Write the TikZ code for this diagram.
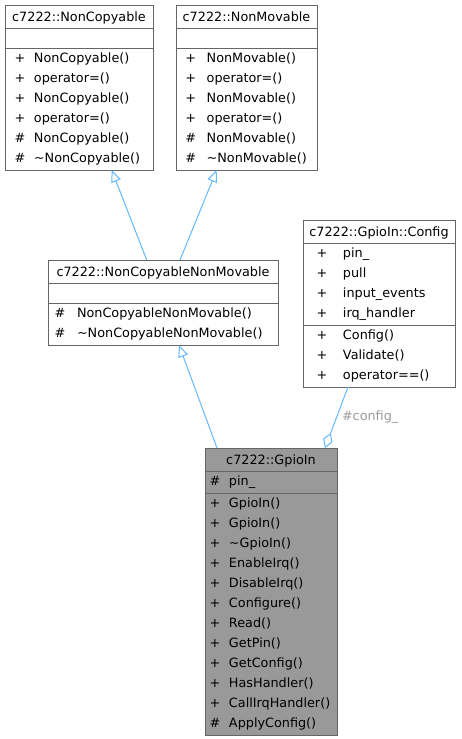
\documentclass[tikz,border=0pt]{standalone}
\usepackage{fontspec}
\setmainfont{DejaVu Sans}
\usepackage{tikz}
\usetikzlibrary{shapes.multipart,arrows.meta}
\definecolor{edgeblue}{HTML}{63B8FF}
\definecolor{boxline}{HTML}{666666}
\definecolor{curfill}{HTML}{999999}
\definecolor{lblgray}{HTML}{9A9A9A}
\newlength{\symw}
\newcommand{\rowstrut}{\rule[-7pt]{0pt}{20pt}}
\newcommand{\ttl}[1]{\makebox[\hsize][c]{\rule[-5.3pt]{0pt}{21pt}#1}}
\newcommand{\nomem}{\rule[-5pt]{0pt}{18pt}}
\newcommand{\mrow}[2]{\makebox[\symw][l]{#1}#2\rowstrut}

\begin{document}
\begin{tikzpicture}[x=1pt, y=-1pt, font=\fontsize{12.8pt}{20pt}\selectfont,
  cls/.style={rectangle split, rectangle split parts=3, draw=boxline, line width=1pt,
              fill=white, inner ysep=0.5pt, outer sep=0pt, anchor=north west, align=left},
  cur/.style={cls, fill=curfill},
  symcol/.style={execute at begin node={\global\symw=#1pt}},
  inherit/.style={draw=edgeblue, line width=1pt, -{Triangle[open,length=12pt,width=10pt]}},
  member/.style={draw=edgeblue, line width=1pt, -{Diamond[open,length=16pt,width=10pt]}},
  elbl/.style={text=lblgray, inner sep=0pt},
]
\useasboundingbox (0,0) rectangle (461,739);
\node[cls, inner xsep=9.6pt, text width=128.8pt, symcol=19.4] (noncopyable) at (5,5)
  {\ttl{c7222::NonCopyable}\nodepart{two}\nomem\nodepart{three}
   \mrow{+}{NonCopyable()}\\\mrow{+}{operator=()}\\\mrow{+}{NonCopyable()}\\
   \mrow{+}{operator=()}\\\mrow{\#}{NonCopyable()}\\\mrow{\#}{\textasciitilde NonCopyable()}};
\node[cls, inner xsep=9.3pt, text width=122.4pt, symcol=21.4] (nonmovable) at (176,5)
  {\ttl{c7222::NonMovable}\nodepart{two}\nomem\nodepart{three}
   \mrow{+}{NonMovable()}\\\mrow{+}{operator=()}\\\mrow{+}{NonMovable()}\\
   \mrow{+}{operator=()}\\\mrow{\#}{NonMovable()}\\\mrow{\#}{\textasciitilde NonMovable()}};
\node[cls, inner xsep=6.6pt, text width=216.8pt, symcol=22.4] (ncnm) at (48,260)
  {\ttl{c7222::NonCopyableNonMovable}\nodepart{two}\nomem\nodepart{three}
   \mrow{\#}{NonCopyableNonMovable()}\\\mrow{\#}{\textasciitilde NonCopyableNonMovable()}};
\node[cls, inner xsep=13.6pt, text width=124.8pt, symcol=26.4] (config) at (303,220)
  {\ttl{c7222::GpioIn::Config}\nodepart{two}
   \mrow{+}{pin\_}\\\mrow{+}{pull}\\\mrow{+}{input\_events}\\\mrow{+}{irq\_handler}
   \nodepart{three}
   \mrow{+}{Config()}\\\mrow{+}{Validate()}\\\mrow{+}{operator==()}};
\node[cur, inner xsep=4.6pt, text width=122.8pt, symcol=19.4] (gpioin) at (205,448)
  {\ttl{c7222::GpioIn}\nodepart{two}\mrow{\#}{pin\_}\nodepart{three}
   \mrow{+}{GpioIn()}\\\mrow{+}{GpioIn()}\\\mrow{+}{\textasciitilde GpioIn()}\\
   \mrow{+}{EnableIrq()}\\\mrow{+}{DisableIrq()}\\\mrow{+}{Configure()}\\
   \mrow{+}{Read()}\\\mrow{+}{GetPin()}\\\mrow{+}{GetConfig()}\\
   \mrow{+}{HasHandler()}\\\mrow{+}{CallIrqHandler()}\\\mrow{\#}{ApplyConfig()}};
\draw[inherit] ([xshift=-16.3pt]ncnm.north) -- ([xshift=32.7pt]noncopyable.south);
\draw[inherit] ([xshift=17pt]ncnm.north) -- ([xshift=-29.8pt]nonmovable.south);
\draw[inherit] ([xshift=-54pt]gpioin.north) -- ([xshift=16pt]ncnm.south);
\draw[member] ([xshift=-31pt]config.south) --
  node[elbl, midway, right=5pt]{\#config\_} ([xshift=54pt]gpioin.north);
\end{tikzpicture}
\end{document}
